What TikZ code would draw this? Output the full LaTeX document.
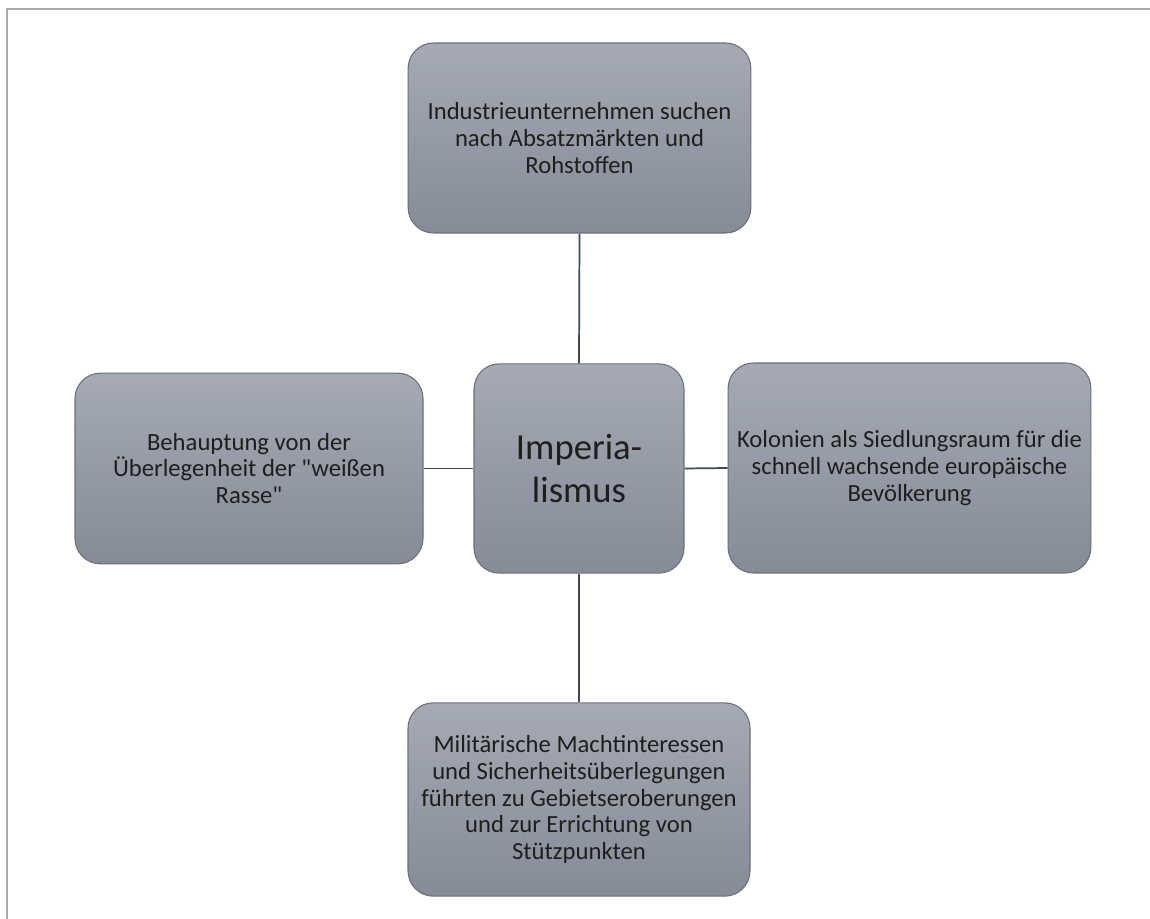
\documentclass[tikz,border=0pt]{standalone}
\usepackage{fontspec}
\setmainfont{Carlito}[Ligatures=TeXOff]
\begin{document}
\begin{tikzpicture}[x=0.75pt,y=-0.75pt,
  box/.style={draw=boxline, line width=0.8pt, rounded corners=19pt, top color=boxtop, bottom color=boxbot,
    align=center, inner sep=0pt, font=\fontsize{18.5}{20}\selectfont, text=textc},
  link/.style={draw=linkc, line width=1.3pt}]
\definecolor{boxtop}{HTML}{A5AAB4}
\definecolor{boxbot}{HTML}{858B97}
\definecolor{boxline}{HTML}{6A707C}
\definecolor{textc}{HTML}{1E1E1E}
\definecolor{linkc}{HTML}{3E4B5C}
\definecolor{framec}{HTML}{A8A8A8}
\useasboundingbox (0,0) rectangle (1150,919);
\fill[white] (0,0) rectangle (1150,919);
\draw[framec, line width=1.5pt] (7,919) -- (7,9) -- (1150,9);
\node[box, minimum width=257pt, minimum height=142.5pt] (top) at (579.5,138) {Industrieunternehmen suchen\\nach Absatzmärkten und\\Rohstoffen};
\node[box, minimum width=157.5pt, minimum height=157pt, font=\fontsize{27.5}{32}\selectfont] (imp) at (579,468.5) {Imperia-\\lismus};
\node[box, minimum width=272pt, minimum height=157.5pt] (right) at (909.5,468) {Kolonien als Siedlungsraum für die\\schnell wachsende europäische\\Bevölkerung};
\node[box, minimum width=261pt, minimum height=143pt] (left) at (249,468.5) {Behauptung von der\\Überlegenheit der "weißen\\Rasse"};
\node[box, minimum width=256.5pt, minimum height=145pt] (bottom) at (579,799.5) {Militärische Machtinteressen\\und Sicherheitsüberlegungen\\führten zu Gebietseroberungen\\und zur Errichtung von\\Stützpunkten};
\draw[link] (top.south) -- (imp.north);
\draw[link] (imp.south) -- (bottom.north);
\draw[link] (left.east) -- (imp.west);
\draw[link] (imp.east) -- (right.west);
\end{tikzpicture}
\end{document}
